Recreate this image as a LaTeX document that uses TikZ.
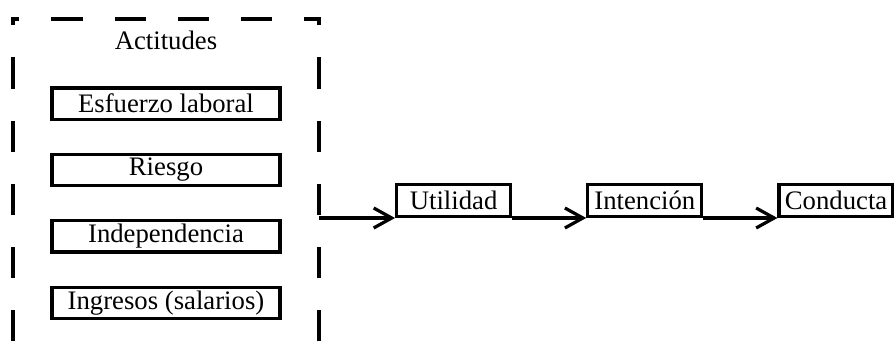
\documentclass[tikz,border=0pt]{standalone}
\usepackage{fontspec}
\setmainfont{Liberation Serif}
\usetikzlibrary{positioning, arrows.meta}

\begin{document}
\begin{tikzpicture}[
    caja/.style={rectangle, draw, line width=2.3pt, minimum height=0.78cm, minimum width=5.7cm, inner sep=1pt, font=\fontsize{19}{23}\selectfont},
    etapa/.style={rectangle, draw, line width=2.3pt, minimum height=0.8cm, minimum width=2.85cm, inner sep=1pt, font=\fontsize{19}{23}\selectfont},
    marco/.style={line width=2.4pt, line cap=rect, dash pattern=on 0.7cm off 0.88cm, dash phase=0.58cm},
    flecha/.style={-{Straight Barb[length=0.45cm, width=0.5cm]}, line width=2.3pt}
]
\useasboundingbox (0,0) rectangle (22.35,-8.7);

% === GRUPO DE ACTITUDES ===
\coordinate (marco-no) at (0.325,-0.475);
\coordinate (marco-ne) at (7.975,-0.475);
\coordinate (marco-so) at (0.325,-9.3);
\coordinate (marco-se) at (7.975,-9.3);

\draw[marco] (marco-no) -- (marco-so);
\draw[marco] (marco-no) -- (marco-ne);
\draw[marco] (marco-ne) -- (marco-se);

\node[font=\fontsize{19}{23}\selectfont] (titulo) at (4.15,-1.0) {Actitudes};

\node[caja] (esfuerzo) at (4.15,-2.59) {Esfuerzo laboral};
\node[caja, below=0.8cm of esfuerzo] (riesgo) {Riesgo};
\node[caja, below=0.8cm of riesgo] (independencia) {Independencia};
\node[caja, below=0.8cm of independencia] (ingresos) {Ingresos (salarios)};

% === CADENA DE RESULTADOS ===
\coordinate (salida) at (7.975,-5.45);

\node[etapa, anchor=south west] (utilidad) at ([xshift=1.9cm]salida) {Utilidad};
\node[etapa, right=1.85cm of utilidad] (intencion) {Intención};
\node[etapa, right=1.85cm of intencion] (conducta) {Conducta};

% Conexiones
\draw[flecha] (salida) -- (utilidad.south west);
\draw[flecha] (utilidad.south east) -- (intencion.south west);
\draw[flecha] (intencion.south east) -- (conducta.south west);

\end{tikzpicture}
\end{document}
